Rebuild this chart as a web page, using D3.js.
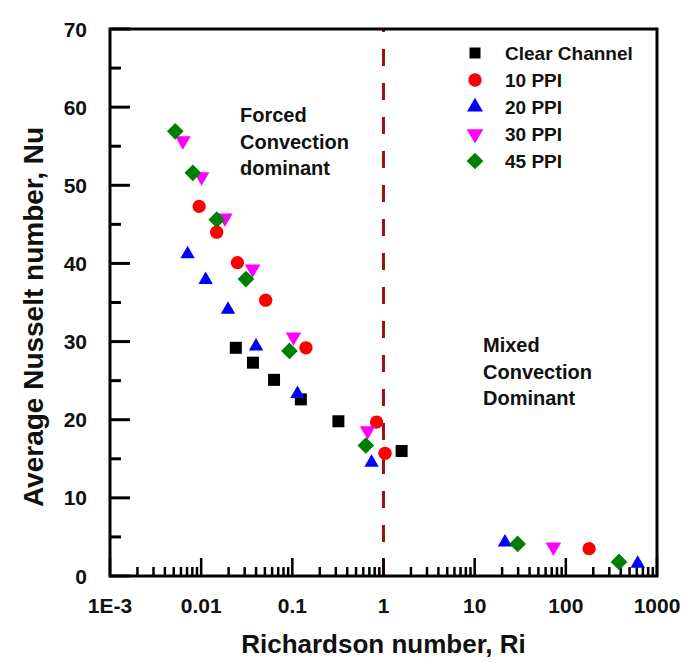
<!DOCTYPE html>
<html>
<head>
<meta charset="utf-8">
<script src="https://cdn.jsdelivr.net/npm/d3@7"></script>
<style>
  body { margin: 0; background: #fff; }
  text { font-family: "Liberation Sans", Arial, sans-serif; font-weight: bold; fill: #111; }
</style>
</head>
<body>
<div id="chart"></div>
<script>
// data
const clearRi = [0.024, 0.037, 0.063, 0.124, 0.32, 1.58];
const clearNu = [29.2, 27.3, 25.1, 22.6, 19.8, 16.0];
const ppi10Ri = [0.0095, 0.0148, 0.025, 0.051, 0.141, 0.84, 1.04, 180];
const ppi10Nu = [47.3, 44.0, 40.1, 35.3, 29.2, 19.7, 15.7, 3.5];
const ppi20Ri = [0.0071, 0.0112, 0.0197, 0.040, 0.114, 0.74, 21.5, 614];
const ppi20Nu = [41.2, 37.9, 34.1, 29.4, 23.3, 14.5, 4.3, 1.6];
const ppi30Ri = [0.0063, 0.0101, 0.0182, 0.0367, 0.103, 0.67, 73];
const ppi30Nu = [55.7, 51.1, 45.8, 39.3, 30.6, 18.6, 3.7];
const ppi45Ri = [0.0052, 0.0081, 0.0148, 0.031, 0.093, 0.64, 29.6, 383];
const ppi45Nu = [56.9, 51.6, 45.6, 38.0, 28.8, 16.7, 4.1, 1.8];

const seriesNames = ["Clear Channel", "10 PPI", "20 PPI", "30 PPI", "45 PPI"];
const xTickValues = [0.001, 0.01, 0.1, 1, 10, 100, 1000];
const xTickLabels = ["1E-3", "0.01", "0.1", "1", "10", "100", "1000"];
const yTickValues = [0, 10, 20, 30, 40, 50, 60, 70];

const width = 684, height = 662;
const margin = {top: 29, right: 27, bottom: 86, left: 110};
const innerW = width - margin.left - margin.right,
      innerH = height - margin.top - margin.bottom;

const svg = d3.select("#chart").append("svg")
    .attr("width", width)
    .attr("height", height)
    .style("background-color", "#fff");

const g = svg.append("g")
    .attr("transform", `translate(${margin.left},${margin.top})`);

const x = d3.scaleLog().domain([0.001, 1000]).range([0, innerW]);
const y = d3.scaleLinear().domain([0, 70]).range([innerH, 0]);

// symbol styles per series
const styles = [
  {ri: clearRi, nu: clearNu, color: "#000000", type: d3.symbolSquare, size: 144, rot: 0},
  {ri: ppi10Ri, nu: ppi10Nu, color: "#ff0000", type: d3.symbolCircle, size: 140, rot: 0},
  {ri: ppi20Ri, nu: ppi20Nu, color: "#0000ff", type: d3.symbolTriangle, size: 90, rot: 0},
  {ri: ppi30Ri, nu: ppi30Nu, color: "#ff00ff", type: d3.symbolTriangle, size: 105, rot: 180},
  {ri: ppi45Ri, nu: ppi45Nu, color: "#008000", type: d3.symbolSquare, size: 140, rot: 45}
];

// dashed line at Ri = 1
g.append("line")
    .attr("x1", x(1)).attr("x2", x(1))
    .attr("y1", innerH).attr("y2", 0)
    .attr("stroke", "#961414")
    .attr("stroke-width", 3)
    .attr("stroke-dasharray", "17,17");

// x axis minor + major ticks (inward)
const minorX = [];
for (let e = -3; e < 3; e++) {
  for (let k = 2; k <= 9; k++) minorX.push(k * Math.pow(10, e));
}
g.selectAll(".xminor")
  .data(minorX)
  .join("line")
    .attr("x1", d => x(d)).attr("x2", d => x(d))
    .attr("y1", innerH).attr("y2", innerH - 9)
    .attr("stroke", "#000").attr("stroke-width", 2.5);

g.selectAll(".xmajor")
  .data(xTickValues)
  .join("line")
    .attr("x1", d => x(d)).attr("x2", d => x(d))
    .attr("y1", innerH).attr("y2", innerH - 18)
    .attr("stroke", "#000").attr("stroke-width", 2.5);

g.selectAll(".xlabel")
  .data(xTickValues)
  .join("text")
    .attr("x", d => x(d))
    .attr("y", innerH + 37)
    .attr("text-anchor", "middle")
    .style("font-size", "21px")
    .text((d, i) => xTickLabels[i]);

// y axis ticks (inward, majors every 10, minors every 5)
g.selectAll(".yminor")
  .data(d3.range(5, 70, 10))
  .join("line")
    .attr("x1", 0).attr("x2", 11)
    .attr("y1", d => y(d)).attr("y2", d => y(d))
    .attr("stroke", "#000").attr("stroke-width", 3);

g.selectAll(".ymajor")
  .data(yTickValues)
  .join("line")
    .attr("x1", 0).attr("x2", 20)
    .attr("y1", d => y(d)).attr("y2", d => y(d))
    .attr("stroke", "#000").attr("stroke-width", 3);

g.selectAll(".ylabel")
  .data(yTickValues)
  .join("text")
    .attr("x", -23)
    .attr("y", d => y(d))
    .attr("dy", "0.36em")
    .attr("text-anchor", "end")
    .style("font-size", "21px")
    .text(d => d);

// frame
g.append("rect")
    .attr("width", innerW)
    .attr("height", innerH)
    .attr("fill", "none")
    .attr("stroke", "#000")
    .attr("stroke-width", 3);

// points
styles.forEach(s => {
  const sym = d3.symbol().type(s.type).size(s.size);
  g.selectAll(null)
    .data(s.ri.map((r, i) => [r, s.nu[i]]))
    .join("path")
      .attr("d", sym)
      .attr("transform", d => `translate(${x(d[0])},${y(d[1])}) rotate(${s.rot})`)
      .attr("fill", s.color);
});

// annotations
const forced = g.append("text")
    .attr("x", 130)
    .style("font-size", "20px");
["Forced", "Convection", "dominant"].forEach((t, i) => {
  forced.append("tspan").attr("x", 130).attr("y", 93 + i * 26.5).text(t);
});
const mixed = g.append("text")
    .style("font-size", "20px");
["Mixed", "Convection", "Dominant"].forEach((t, i) => {
  mixed.append("tspan").attr("x", 373).attr("y", 323 + i * 26.5).text(t);
});

// legend
const legend = g.append("g")
    .attr("transform", `translate(${475 - margin.left}, ${53 - margin.top})`);
const legendSizes = [121, 140, 110, 120, 140];
styles.forEach((s, i) => {
  legend.append("path")
      .attr("d", d3.symbol().type(s.type).size(legendSizes[i]))
      .attr("transform", `translate(0,${i * 27}) rotate(${s.rot})`)
      .attr("fill", s.color);
  legend.append("text")
      .attr("x", 30)
      .attr("y", i * 27)
      .attr("dy", "0.36em")
      .style("font-size", "19px")
      .text(seriesNames[i]);
});

// axis titles
svg.append("text")
    .attr("x", margin.left + innerW / 2)
    .attr("y", 653)
    .attr("text-anchor", "middle")
    .style("font-size", "26px")
    .text("Richardson number, Ri");

svg.append("text")
    .attr("transform", "translate(43,317) rotate(-90)")
    .attr("text-anchor", "middle")
    .style("font-size", "28px")
    .text("Average Nusselt number, Nu");
</script>
</body>
</html>
